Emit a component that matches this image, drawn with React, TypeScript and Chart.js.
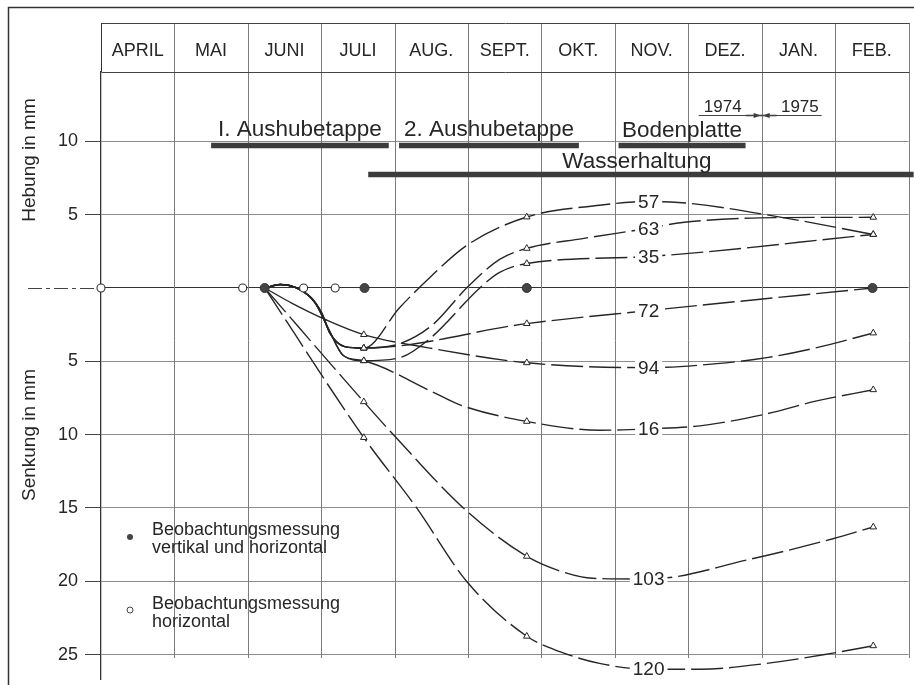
import React, { useEffect, useRef } from 'react';
import { Chart, registerables } from 'chart.js';

Chart.register(...registerables);

// ---------- data ----------
const monthLabels = ['APRIL', 'MAI', 'JUNI', 'JULI', 'AUG.', 'SEPT.', 'OKT.', 'NOV.', 'DEZ.', 'JAN.', 'FEB.'];
const yTickValues = [-25, -20, -15, -10, -5, 0, 5, 10];

const phaseNames = ['I. Aushubetappe', '2. Aushubetappe', 'Bodenplatte', 'Wasserhaltung'];
const phaseStart = [1.5, 4.06, 7.05, 3.64];
const phaseEnd = [3.92, 6.51, 8.78, 11.07];
const phaseTextAt = [2.71, 5.285, 7.915, 7.3];

const yearLabels = ['1974', '1975'];
const yearTextAt = [8.47, 9.52];
const yearBoundary = 9;

const measureMonths = [3.58, 5.8, 10.52];
const labelMonth = 7.46;

const openCircleMonths = [0, 1.93, 2.76, 3.19];
const filledCircleMonths = [2.23, 3.59, 5.8, 10.51];

const curve57 = [[2.23, 0], [2.44, 0.24], [2.85, -0.6], [3.01, -1.75], [3.12, -3.1], [3.32, -4.0], [3.58, -4.1], [4.07, -1.33], [4.48, 0.72], [4.98, 2.9], [5.8, 4.84], [6.79, 5.64], [7.46, 5.9], [8.02, 5.77], [9.29, 4.8], [10.52, 3.65]];
const curve63 = [[2.23, 0], [2.44, 0.24], [2.85, -0.6], [3.01, -1.75], [3.12, -3.1], [3.32, -4.0], [3.58, -4.1], [4.07, -3.8], [4.52, -2.5], [4.98, 0], [5.43, 1.95], [5.8, 2.7], [6.56, 3.37], [7.46, 4.07], [7.92, 4.47], [9.29, 4.8], [10.52, 4.82]];
const curve35 = [[2.23, 0], [2.44, 0.24], [2.9, -0.9], [3.1, -2.8], [3.3, -4.6], [3.58, -4.96], [4.07, -4.75], [4.48, -3.45], [5.16, 0], [5.43, 1.06], [5.8, 1.67], [7.46, 2.15], [10.52, 3.65]];
const curve72 = [[2.23, 0], [2.44, 0.24], [2.85, -0.6], [3.01, -1.75], [3.12, -3.1], [3.32, -4.0], [3.58, -4.1], [5.8, -2.43], [7.46, -1.54], [10.51, 0]];
const curve94 = [[2.23, 0], [2.61, -1.06], [3.08, -2.2], [3.58, -3.18], [4.48, -4.1], [5.8, -5.1], [7.46, -5.43], [8.39, -5.16], [9.07, -4.75], [9.75, -4.07], [10.52, -3.07]];
const curve16 = [[2.23, 0], [2.44, 0.24], [2.9, -0.9], [3.1, -2.8], [3.3, -4.6], [3.58, -4.96], [4.48, -7.0], [4.89, -7.97], [5.8, -9.1], [6.79, -9.7], [7.46, -9.6], [8.16, -9.4], [9.07, -8.58], [9.75, -7.7], [10.52, -6.94]];
const curve103 = [[2.23, 0], [3.58, -7.76], [4.0, -10.1], [4.98, -15.2], [5.8, -18.3], [6.25, -19.3], [6.7, -19.8], [7.46, -19.85], [8.84, -18.5], [9.97, -17.1], [10.52, -16.3]];
const curve120 = [[2.23, 0], [3.58, -10.2], [4.3, -15.0], [4.98, -20.0], [5.8, -23.75], [6.25, -24.8], [6.79, -25.6], [7.46, -26.0], [8.16, -26.0], [9.07, -25.6], [9.97, -24.9], [10.52, -24.4]];

const curveNames = ['57', '63', '35', '72', '94', '16', '103', '120'];
const curveData = [curve57, curve63, curve35, curve72, curve94, curve16, curve103, curve120];
const solidStart = [true, true, true, true, true, true, false, false];

// ---------- style ----------
const FONT = '"Liberation Sans", Arial, sans-serif';
const INK = '#262626';
const GRID = '#7c7c7c';

const isMarker = (m: number) => measureMonths.some((v) => Math.abs(v - m) < 1e-6);

const decorPlugin = {
  id: 'decor',
  beforeDatasetsDraw(chart: any) {
    const { ctx, chartArea: ca, scales } = chart;
    const x = scales.x;
    const y = scales.y;
    const headTop = ca.top - 49;
    const x0 = Math.round(x.getPixelForValue(0)) + 0.5;
    const xN = Math.round(x.getPixelForValue(monthLabels.length)) + 0.5;
    ctx.save();

    // outer frame
    ctx.strokeStyle = '#333';
    ctx.lineWidth = 1.5;
    ctx.beginPath();
    ctx.moveTo(914, 7.5);
    ctx.lineTo(8.5, 7.5);
    ctx.lineTo(8.5, 685);
    ctx.stroke();

    // vertical month lines (header + grid)
    const gridBottom = Math.round(y.getPixelForValue(-25.2));
    ctx.lineWidth = 1;
    for (let i = 0; i <= monthLabels.length; i++) {
      const px = Math.round(x.getPixelForValue(i)) + 0.5;
      ctx.strokeStyle = i === 0 ? '#333' : GRID;
      ctx.beginPath();
      ctx.moveTo(px, headTop);
      ctx.lineTo(px, i === 0 ? ca.top : gridBottom);
      ctx.stroke();
    }
    // header horizontal lines
    ctx.strokeStyle = '#444';
    ctx.beginPath();
    ctx.moveTo(x0, headTop + 0.5);
    ctx.lineTo(xN, headTop + 0.5);
    ctx.moveTo(x0, Math.round(ca.top) + 0.5);
    ctx.lineTo(xN, Math.round(ca.top) + 0.5);
    ctx.stroke();

    // month names
    ctx.fillStyle = INK;
    ctx.font = `18px ${FONT}`;
    ctx.textAlign = 'center';
    ctx.textBaseline = 'middle';
    monthLabels.forEach((m, i) => {
      ctx.fillText(m, x.getPixelForValue(i + 0.5), headTop + 28);
    });

    // dash-dot extension of zero line to the left
    const y0 = Math.round(y.getPixelForValue(0)) + 0.5;
    ctx.strokeStyle = '#444';
    ctx.setLineDash([14, 4, 4, 4]);
    ctx.beginPath();
    ctx.moveTo(28, y0);
    ctx.lineTo(x0, y0);
    ctx.stroke();
    ctx.setLineDash([]);

    // phase bars and texts
    const rowBar = [ca.top + 73.5, ca.top + 73.5, ca.top + 73.5, ca.top + 102.5];
    const rowText = [ca.top + 64, ca.top + 64, ca.top + 65, ca.top + 96];
    ctx.fillStyle = '#3c3c3c';
    phaseNames.forEach((_, i) => {
      const a = x.getPixelForValue(phaseStart[i]);
      const b = x.getPixelForValue(phaseEnd[i]);
      ctx.fillRect(a, rowBar[i] - 2.75, b - a, 5.5);
    });
    ctx.fillStyle = INK;
    ctx.font = `22.5px ${FONT}`;
    ctx.textBaseline = 'alphabetic';
    phaseNames.forEach((n, i) => {
      ctx.fillText(n, x.getPixelForValue(phaseTextAt[i]), rowText[i]);
    });

    // years
    ctx.font = `17px ${FONT}`;
    yearLabels.forEach((t, i) => {
      ctx.fillText(t, x.getPixelForValue(yearTextAt[i]), ca.top + 40);
    });
    const yb = x.getPixelForValue(yearBoundary);
    const uy = ca.top + 43.5;
    ctx.strokeStyle = '#444';
    ctx.lineWidth = 1;
    ctx.beginPath();
    ctx.moveTo(yb - 63, uy);
    ctx.lineTo(yb + 60, uy);
    ctx.stroke();
    ctx.fillStyle = '#333';
    ctx.beginPath();
    ctx.moveTo(yb - 1, uy);
    ctx.lineTo(yb - 8, uy - 2.5);
    ctx.lineTo(yb - 8, uy + 2.5);
    ctx.closePath();
    ctx.moveTo(yb + 1, uy);
    ctx.lineTo(yb + 8, uy - 2.5);
    ctx.lineTo(yb + 8, uy + 2.5);
    ctx.closePath();
    ctx.fill();
    ctx.lineWidth = 1.6;
    ctx.beginPath();
    ctx.moveTo(yb - 16, uy);
    ctx.lineTo(yb + 15, uy);
    ctx.stroke();

    // axis titles
    ctx.fillStyle = INK;
    ctx.font = `19px ${FONT}`;
    ctx.textAlign = 'center';
    ctx.textBaseline = 'alphabetic';
    const titles: [string, number][] = [['Hebung in mm', 160], ['Senkung in mm', 435]];
    titles.forEach(([t, cy]) => {
      ctx.save();
      ctx.translate(35, cy);
      ctx.rotate(-Math.PI / 2);
      ctx.fillText(t, 0, 0);
      ctx.restore();
    });

    // legend
    ctx.font = `18px ${FONT}`;
    ctx.textAlign = 'left';
    ctx.fillText('Beobachtungsmessung', 152, 535);
    ctx.fillText('vertikal und horizontal', 152, 553);
    ctx.fillText('Beobachtungsmessung', 152, 609);
    ctx.fillText('horizontal', 152, 627);
    ctx.fillStyle = '#444';
    ctx.beginPath();
    ctx.arc(130, 537, 3, 0, Math.PI * 2);
    ctx.fill();
    ctx.strokeStyle = '#444';
    ctx.lineWidth = 1;
    ctx.beginPath();
    ctx.arc(130, 610, 3, 0, Math.PI * 2);
    ctx.stroke();

    ctx.restore();
  },
  afterDatasetsDraw(chart: any) {
    const { ctx } = chart;
    ctx.save();
    ctx.font = `19px ${FONT}`;
    ctx.textAlign = 'center';
    ctx.textBaseline = 'middle';
    chart.data.datasets.forEach((ds: any, di: number) => {
      if (!ds.curveLabel) return;
      const idx = ds.data.findIndex((p: any) => p.x === labelMonth);
      if (idx < 0) return;
      const el = chart.getDatasetMeta(di).data[idx];
      const w = ctx.measureText(ds.curveLabel).width;
      ctx.fillStyle = '#fff';
      ctx.fillRect(el.x - w / 2 - 3, el.y - 8, w + 6, 16);
      ctx.fillStyle = INK;
      ctx.fillText(ds.curveLabel, el.x, el.y + 1);
    });
    ctx.restore();
  },
};

export default function App() {
  const ref = useRef<HTMLCanvasElement | null>(null);

  useEffect(() => {
    if (!ref.current) return;
    const circleSets: any[] = [
      {
        data: filledCircleMonths.map((m) => ({ x: m, y: 0 })),
        showLine: false,
        pointStyle: 'circle',
        pointRadius: 4.5,
        pointBackgroundColor: '#444',
        pointBorderColor: '#333',
        pointBorderWidth: 1,
        clip: false,
      },
      {
        data: openCircleMonths.map((m) => ({ x: m, y: 0 })),
        showLine: false,
        pointStyle: 'circle',
        pointRadius: 4,
        pointBackgroundColor: '#fff',
        pointBorderColor: '#333',
        pointBorderWidth: 1.1,
        clip: false,
      },
    ];
    const curveSets: any[] = curveData.map((pts, i) => ({
      curveLabel: curveNames[i],
      data: pts.map(([m, v]) => ({ x: m, y: v })),
      borderColor: INK,
      borderWidth: 1.4,
      borderDash: [32, 6],
      cubicInterpolationMode: 'monotone',
      fill: false,
      pointStyle: 'triangle',
      pointRadius: (c: any) => (c.raw && isMarker(c.raw.x) ? 3.8 : 0),
      pointBackgroundColor: '#fff',
      pointBorderColor: INK,
      pointBorderWidth: 1,
      segment: {
        borderDash: (c: any) => (solidStart[i] && c.p1.parsed.x <= 3.58 + 1e-6 ? [] : undefined),
      },
    }));

    const chart = new Chart(ref.current, {
      type: 'line',
      data: { datasets: [...circleSets, ...curveSets] },
      options: {
        responsive: false,
        animation: false,
        events: [],
        layout: { padding: { left: 0, top: 72, right: 5, bottom: 2 } },
        plugins: { legend: { display: false }, tooltip: { enabled: false } },
        scales: {
          x: { type: 'linear', min: 0, max: monthLabels.length, display: false },
          y: {
            type: 'linear',
            min: -26.7,
            max: 14.73,
            afterBuildTicks: (s: any) => {
              s.ticks = yTickValues.map((v) => ({ value: v }));
            },
            afterFit: (s: any) => {
              s.width = 101;
              s.paddingTop = 0;
              s.paddingBottom = 0;
            },
            ticks: {
              color: INK,
              font: { family: FONT, size: 18 },
              padding: 7,
              callback: (v: any) => (Number(v) === 0 ? '' : String(Math.abs(Number(v)))),
            },
            grid: {
              color: (c: any) => (c.tick && c.tick.value === 0 ? '#333' : '#8c8c8c'),
              tickColor: (c: any) => (c.tick && c.tick.value === 0 ? 'rgba(0,0,0,0)' : '#444'),
              lineWidth: 1,
              tickLength: 16,
            },
            border: { display: true, color: '#333', width: 1.3 },
          },
        },
      } as any,
      plugins: [decorPlugin],
    });
    return () => chart.destroy();
  }, []);

  return (
    <div style={{ position: 'absolute', left: 0, top: 0, width: 914, height: 685, background: '#fff' }}>
      <canvas ref={ref} width={914} height={685} style={{ display: 'block' }} />
    </div>
  );
}
